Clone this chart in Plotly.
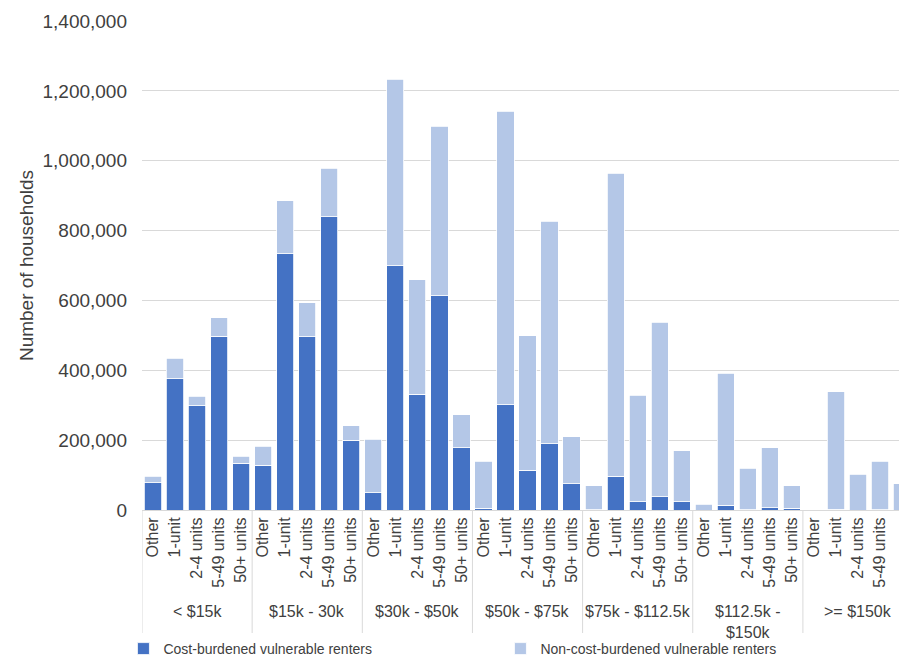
import plotly.graph_objects as go

income_groups = ["< $15k", "$15k - 30k", "$30k - $50k", "$50k - $75k",
                 "$75k - $112.5k", "$112.5k -<br>$150k", ">= $150k"]
building_types = ["Other", "1-unit", "2-4 units", "5-49 units", "50+ units"]

cost_burdened = [
    78000, 376000, 298000, 497000, 134000,
    128000, 733000, 496000, 839000, 200000,
    49000, 700000, 332000, 613000, 178000,
    5000, 301000, 114000, 190000, 75000,
    1000, 97000, 24000, 38000, 24000,
    0, 14000, 1000, 6000, 5000,
    0, 2000, 0, 1000, 0,
]
non_cost_burdened = [
    18000, 58000, 28000, 53000, 20000,
    55000, 152000, 97000, 139000, 41000,
    154000, 533000, 327000, 485000, 94000,
    134000, 841000, 385000, 636000, 135000,
    69000, 867000, 305000, 499000, 145000,
    17000, 377000, 119000, 172000, 65000,
    0, 336000, 102000, 138000, 75000,
]
y_ticks = [0, 200000, 400000, 600000, 800000, 1000000, 1200000, 1400000]

n_types = len(building_types)
xpos = list(range(len(income_groups) * n_types))
tick_text = building_types * len(income_groups)

FONT = "Liberation Sans, Arial, sans-serif"
TXT = "#404040"
GRID = "#d9d9d9"

fig = go.Figure()
fig.add_bar(x=xpos, y=cost_burdened, name="Cost-burdened vulnerable renters",
            marker=dict(color="#4472C4", line=dict(color="white", width=0.8)))
fig.add_bar(x=xpos, y=non_cost_burdened, name="Non-cost-burdened vulnerable renters",
            marker=dict(color="#B4C7E7", line=dict(color="white", width=0.8)))

W, H = 899, 659
ml, mt, mb = 142, 21, 149
plot_h = H - mt - mb
plot_w = W - ml
slot = 22.03
x_hi = -0.5 + plot_w / slot

def py(px_below):
    return -(px_below) / plot_h

shapes = []
for g in range(len(income_groups) + 1):
    xb = g * n_types - 0.5
    shapes.append(dict(type="line", xref="x", yref="paper", x0=xb, x1=xb,
                       y0=0, y1=py(130), line=dict(color=GRID, width=1)))

annotations = []
for g, name in enumerate(income_groups):
    annotations.append(dict(x=g * n_types + (n_types - 1) / 2, y=py(91),
                            xref="x", yref="paper", text=name, showarrow=False,
                            yanchor="top", xanchor="center",
                            font=dict(size=16, color=TXT, family=FONT)))

fig.update_layout(
    width=W, height=H,
    margin=dict(l=ml, r=0, t=mt, b=mb, autoexpand=False),
    paper_bgcolor="white", plot_bgcolor="white",
    barmode="stack", bargap=0.22,
    font=dict(family=FONT, color=TXT),
    shapes=shapes, annotations=annotations,
    showlegend=True,
    legend=dict(orientation="h", x=-11 / plot_w - 0.01, xanchor="left", y=py(123), yanchor="top",
                font=dict(size=14, color=TXT, family=FONT),
                entrywidth=332, entrywidthmode="pixels",
                traceorder="normal", itemclick=False),
)
fig.update_xaxes(range=[-0.5, x_hi], tickmode="array", tickvals=xpos,
                 ticktext=tick_text, tickangle=-90, showgrid=False,
                 showline=True, linecolor=GRID, linewidth=1, ticks="",
                 tickfont=dict(size=16, color=TXT, family=FONT), automargin=False)
fig.update_yaxes(range=[0, 1400000], tickmode="array", tickvals=y_ticks,
                 tickformat=",d", showgrid=True, gridcolor=GRID, gridwidth=1,
                 zeroline=False, showline=False, ticks="",
                 ticklabelstandoff=14,
                 tickfont=dict(size=19, color=TXT, family=FONT),
                 title=dict(text="Number of households", standoff=3,
                            font=dict(size=19, color=TXT, family=FONT)),
                 automargin=False)

fig.write_html("out.html")
